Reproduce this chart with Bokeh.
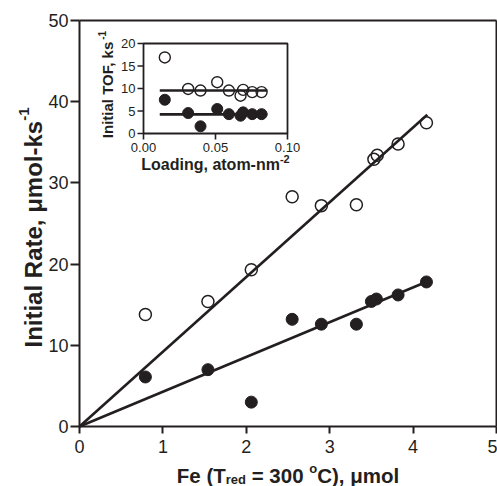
from bokeh.plotting import figure
from bokeh.models import Range1d, Label, LinearAxis, FixedTicker
from bokeh.embed import file_html
from bokeh.resources import INLINE
from bokeh.core.properties import value
import math

# ---------------- data ----------------
fe_open = [0.79, 1.54, 2.06, 2.55, 2.90, 3.32, 3.53, 3.57, 3.82, 4.16]
rate_open = [13.8, 15.4, 19.3, 28.3, 27.2, 27.3, 32.9, 33.4, 34.8, 37.4]
fe_filled = [0.79, 1.54, 2.06, 2.55, 2.90, 3.32, 3.50, 3.56, 3.82, 4.16]
rate_filled = [6.1, 7.0, 3.0, 13.2, 12.6, 12.6, 15.4, 15.7, 16.2, 17.8]
fit_fe = [0.0, 4.17]
fit_open = [0.0, 38.4]
fit_filled = [0.0, 17.85]

load_open = [0.0148, 0.031, 0.0396, 0.0512, 0.0593, 0.0674, 0.0692, 0.0755, 0.082]
tof_open = [16.9, 9.9, 9.55, 11.4, 9.55, 8.4, 9.7, 9.2, 9.2]
load_filled = [0.0148, 0.031, 0.0396, 0.0512, 0.0593, 0.0674, 0.0692, 0.0755, 0.082]
tof_filled = [7.5, 4.55, 1.6, 5.45, 4.3, 3.95, 4.7, 4.3, 4.3]
inset_fit_load = [0.0113, 0.086]
inset_fit_open = [9.55, 9.55]
inset_fit_filled = [4.25, 4.25]

x_ticks = [0, 1, 2, 3, 4, 5]
y_ticks = [0, 10, 20, 30, 40, 50]
inset_x_ticks = [0.0, 0.05, 0.10]
inset_x_labels = ["0.00", "0.05", "0.10"]
inset_y_ticks = [0, 5, 10, 15, 20]
inset_y_labels = ["0", "5", "10", "15", "20"]

# ---------------- layout constants (canvas pixels) ----------------
INK = "#231f20"
FONT = "Liberation Sans"
W, H = 497, 486
X0, X1, Y0, Y1 = 0, 5, 0, 50
BOX_L, BOX_R, BOX_T, BOX_B = 79, 496, 20, 426      # main axes box on canvas
kx = (BOX_R - BOX_L) / (X1 - X0)
ky = (BOX_B - BOX_T) / (Y1 - Y0)


def mx(sx):
    return X0 + (sx - BOX_L) / kx


def my(sy):
    return Y0 + (BOX_B - sy) / ky


ADV = {"F": 611, "e": 556, " ": 278, "(": 333, ")": 333, "T": 611, "r": 389,
       "d": 611, "=": 584, "3": 556, "0": 556, "o": 611, "C": 722, ",": 278,
       "μ": 611, "m": 889, "l": 278, "I": 278, "n": 611, "i": 278, "t": 333,
       "a": 556, "R": 722, "k": 556, "s": 556, "-": 333, "1": 556, "2": 556,
       "O": 778, "L": 611, "g": 611}


def tw(s, fs):
    return sum(ADV.get(c, 556) for c in s) * fs / 1000.0


p = figure(width=W, height=H, output_backend="svg", toolbar_location=None,
           x_range=Range1d(mx(0), mx(W)), y_range=Range1d(my(H), my(0)),
           min_border=0)
p.grid.visible = False
p.outline_line_color = None
p.background_fill_color = "white"
p.border_fill_color = "white"


def style_axis(ax, ticks, tick_out, standoff, show_labels=True):
    ax.ticker = FixedTicker(ticks=ticks)
    ax.axis_line_color = INK
    ax.axis_line_width = 2
    ax.major_tick_line_color = INK
    ax.major_tick_line_width = 2
    ax.major_tick_in = 0
    ax.major_tick_out = tick_out
    ax.minor_tick_line_color = None
    ax.major_label_text_font = FONT
    ax.major_label_text_font_size = "18px"
    ax.major_label_text_color = INK if show_labels else None
    ax.major_label_standoff = standoff


p.xaxis.fixed_location = Y0
p.xaxis.bounds = (X0, X1)
style_axis(p.xaxis[0], x_ticks, 7, 6)
p.yaxis.fixed_location = X0
p.yaxis.bounds = (Y0, Y1)
style_axis(p.yaxis[0], y_ticks, 9, 2)

top_ax = LinearAxis(fixed_location=Y1, bounds=(X0, X1))
style_axis(top_ax, [], 0, 0, show_labels=False)
p.add_layout(top_ax, "above")
right_ax = LinearAxis(fixed_location=X1, bounds=(Y0, Y1))
style_axis(right_ax, [], 0, 0, show_labels=False)
p.add_layout(right_ax, "right")

# ---------------- main plot ----------------
p.line(fit_fe, fit_open, line_color=INK, line_width=2.6)
p.line(fit_fe, fit_filled, line_color=INK, line_width=2.6)
p.scatter(fe_open, rate_open, marker="circle", size=12, fill_color=None,
          line_color=INK, line_width=1.5)
p.scatter(fe_filled, rate_filled, marker="circle", size=12, fill_color=INK,
          line_color=INK, line_width=1)

# ---------------- inset (own ranges) ----------------
IL, IR, IT, IB = 143, 287, 43, 133        # inset box on canvas
IX0, IX1, IY0, IY1 = 0.0, 0.10, 0.0, 20.0
ikx = (IR - IL) / (IX1 - IX0)
iky = (IB - IT) / (IY1 - IY0)
p.extra_x_ranges = {"ix": Range1d(IX0 - IL / ikx, IX0 + (W - IL) / ikx)}
p.extra_y_ranges = {"iy": Range1d(IY0 - (H - IB) / iky, IY0 + IB / iky)}
R = dict(x_range_name="ix", y_range_name="iy")

p.quad(left=[IX0], right=[IX1], bottom=[IY0], top=[IY1], fill_color="white",
       line_color=INK, line_width=1.8, **R)
TK = 6
p.segment(x0=[IX0] * len(inset_y_ticks), x1=[IX0 - TK / ikx] * len(inset_y_ticks),
          y0=inset_y_ticks, y1=inset_y_ticks, line_color=INK, line_width=1.6, **R)
p.segment(x0=inset_x_ticks, x1=inset_x_ticks, y0=[IY0] * len(inset_x_ticks),
          y1=[IY0 - TK / iky] * len(inset_x_ticks), line_color=INK, line_width=1.6, **R)
p.text(x=[IX0 - (TK + 2) / ikx] * len(inset_y_ticks), y=inset_y_ticks, text=inset_y_labels,
       text_align="right", text_baseline="middle", text_font=value(FONT),
       text_font_size="13px", text_color=INK, **R)
p.text(x=inset_x_ticks, y=[IY0 - 14 / iky] * len(inset_x_ticks), text=inset_x_labels,
       text_align="center", text_baseline="middle", text_font=value(FONT),
       text_font_size="13px", text_color=INK, **R)

p.line(inset_fit_load, inset_fit_open, line_color=INK, line_width=2.6, **R)
p.line(inset_fit_load, inset_fit_filled, line_color=INK, line_width=2.6, **R)
p.scatter(load_open, tof_open, marker="circle", size=11, fill_color=None,
          line_color=INK, line_width=1.4, **R)
p.scatter(load_filled, tof_filled, marker="circle", size=11, fill_color=INK,
          line_color=INK, line_width=1, **R)


# ---------------- composed titles ----------------
def add_label(txt, sx, sy, fs, angle=0.0):
    p.add_layout(Label(x=mx(sx), y=my(sy), text=txt, angle=angle,
                       text_font=FONT, text_font_size=f"{fs}px",
                       text_font_style="bold", text_color=INK,
                       text_align="left", text_baseline="alphabetic"))


def split(s):
    lead = len(s) - len(s.lstrip(" "))
    return s[:lead], s.strip(" "), s[len(s.rstrip(" ")):]


def hrun(pieces, cx, base):
    total = sum(tw(s, fs) for s, fs, _ in pieces)
    x = cx - total / 2
    for s, fs, dy in pieces:
        lead, core, trail = split(s)
        x += tw(lead, fs)
        add_label(core, x, base + dy, fs)
        x += tw(core, fs) + tw(trail, fs)


def vrun(pieces, cy, base):
    total = sum(tw(s, fs) for s, fs, _ in pieces)
    y = cy + total / 2
    for s, fs, dx in pieces:
        lead, core, trail = split(s)
        y -= tw(lead, fs)
        add_label(core, base + dx, y, fs, angle=math.pi / 2)
        y -= tw(core, fs) + tw(trail, fs)


# main x title
hrun([("Fe (T", 20.5, 0), ("red", 13, 4), (" = 300 ", 20.5, 0), ("o", 13, -7),
      ("C), μmol", 20.5, 0)], (BOX_L + BOX_R) / 2, 475)
# main y title
vrun([("Initial Rate, μmol-ks", 24, 0), ("-1", 15, -10)], (BOX_T + BOX_B) / 2 + 4, 33)
# inset x title
hrun([("Loading, atom-nm", 16, 0), ("-2", 11, -6)], (IL + IR) / 2, 164)
# inset y title
vrun([("Initial TOF, ks", 15, 0), ("-1", 10, -6)], 84, 107)

open("out.html", "w").write(file_html(p, INLINE))
